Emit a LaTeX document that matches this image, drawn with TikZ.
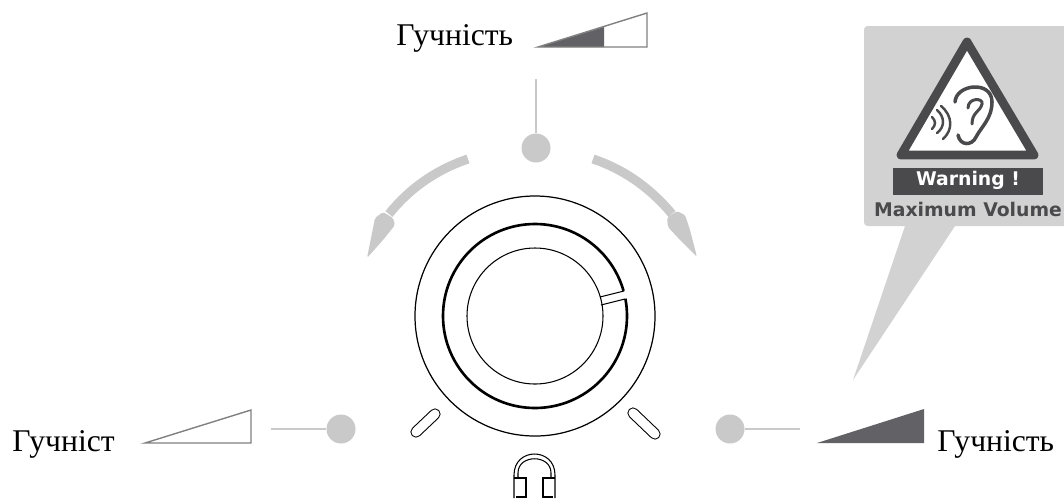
\documentclass[tikz,border=0pt]{standalone}
\usepackage{fontspec}
\setmainfont{Liberation Serif}
\newfontfamily\signfont{DejaVu Sans}
\definecolor{softgray}{HTML}{C9C9C9}
\definecolor{panelgray}{HTML}{D2D2D2}
\definecolor{wedgegray}{HTML}{626266}
\definecolor{signdark}{HTML}{4A4A4C}
\tikzset{
  dot/.style={circle,fill=softgray,inner sep=0pt,minimum size=0.58cm},
  lead/.style={softgray,line width=1.3pt},
  sweep/.style={softgray,line width=5.2pt},
  label/.style={anchor=base west,inner sep=0pt,font=\fontsize{18}{18}\selectfont},
  wedge/.style={draw=gray,line width=0.8pt},
  slotline/.style={line width=0.6pt,double=white,double distance=5.2pt,line cap=round},
  signtext/.style={inner sep=0pt,font=\signfont\bfseries\fontsize{10.7}{11}\selectfont}
}
\begin{document}
\begin{tikzpicture}[x=0.02cm,y=-0.02cm]
\useasboundingbox (0,0) rectangle (1064,498);

% top level
\node at (396,45) (labeltop)[label]{Гучність};
\fill[wedgegray] (538,47) -- (604,27) -- (604,47) -- cycle;
\draw[wedge] (538,47) -- (647,13) -- (647,47) -- cycle;
\node at (536,148) (dottop)[dot]{};
\coordinate (leadtop) at (536,79);
\draw[lead] (leadtop) -- (dottop);

% sweep arrows
\draw[sweep] (468,159) .. controls (435,170) and (408,190) .. (389,214);
\fill[softgray,rounded corners=1pt] (367,258) -- (375,218) -- (383,212) -- (393,218) -- (395,225) -- (383,240) -- cycle;
\draw[sweep] (593,159) .. controls (626,170) and (652,190) .. (672,214);
\fill[softgray,rounded corners=1pt] (697,257) -- (690,230) -- (685,215) -- (677,211) -- (667,218) -- (668,227) -- (680,240) -- cycle;

% knob
\draw[line width=0.7pt] (535,316) circle (120);
\draw[line width=1.5pt] (535,316) circle (92);
\draw[line width=0.6pt] (535,316) circle (68);
\fill[white] (612,294) -- (627,290) -- (628,298) -- (613,302) -- cycle;
\draw[line width=0.6pt] (600,297) -- (624,291);
\draw[line width=0.6pt] (601,305) -- (625,299);

% slots and headphones
\draw[slotline] (435,414) -- (416,432);
\draw[slotline] (633,413) -- (655,434);
\draw[line width=0.6pt] (514,498) -- (514,475) .. controls (514,447) and (555,447) .. (555,475) -- (555,498);
\draw[line width=0.6pt] (518,478) -- (518,473) .. controls (518,454) and (551,454) .. (551,473) -- (551,478);
\draw[line width=0.6pt] (514,478) -- (526,478) -- (526,497) -- (516,497);
\draw[line width=0.6pt] (555,478) -- (543,478) -- (543,497) -- (553,497);

% left level
\node at (12,451) (labelleft)[label]{Гучніст};
\draw[wedge] (145,443) -- (251,410) -- (251,443) -- cycle;
\node at (341,429) (dotleft)[dot]{};
\coordinate (leadleft) at (271,429);
\draw[lead] (leadleft) -- (dotleft);

% right level
\node at (730,429) (dotright)[dot]{};
\coordinate (leadright) at (800,429);
\draw[lead] (dotright) -- (leadright);
\fill[wedgegray] (817,443) -- (924,409) -- (924,443) -- cycle;
\node at (937,451) (labelright)[label]{Гучність};

% warning sign
\fill[panelgray] (905,226) -- (853,380) -- (955,226) -- cycle;
\fill[panelgray,rounded corners=2pt] (864,26) rectangle (1070,226);
\draw[signdark,fill=white,line width=5pt,line join=round] (967,42) -- (901,155) -- (1034,155) -- cycle;
\draw[signdark,line width=2pt,line cap=round] (955,102) .. controls (956,84) and (992,80) .. (992,102) .. controls (992,118) and (982,126) .. (976,137) .. controls (972,146) and (960,146) .. (958,135);
\draw[signdark,line width=1.7pt,line cap=round] (968,108) .. controls (968,97) and (984,98) .. (982,104) .. controls (980,112) and (972,112) .. (972,124);
\draw[signdark,line width=1.4pt,line cap=round] (932,117) .. controls (936,121) and (936,125) .. (932,129);
\draw[signdark,line width=1.4pt,line cap=round] (937,110) .. controls (945,117) and (945,127) .. (937,133);
\draw[signdark,line width=1.4pt,line cap=round] (941,106) .. controls (953,116) and (953,130) .. (943,139);
\node at (968,181) (warnbar)[fill=signdark,minimum width=3cm,minimum height=0.54cm,inner sep=0pt]{};
\node at (968,180) (warntext)[signtext,white]{Warning !};
\node at (968,209) (maxtext)[signtext,signdark]{Maximum Volume};
\end{tikzpicture}
\end{document}
